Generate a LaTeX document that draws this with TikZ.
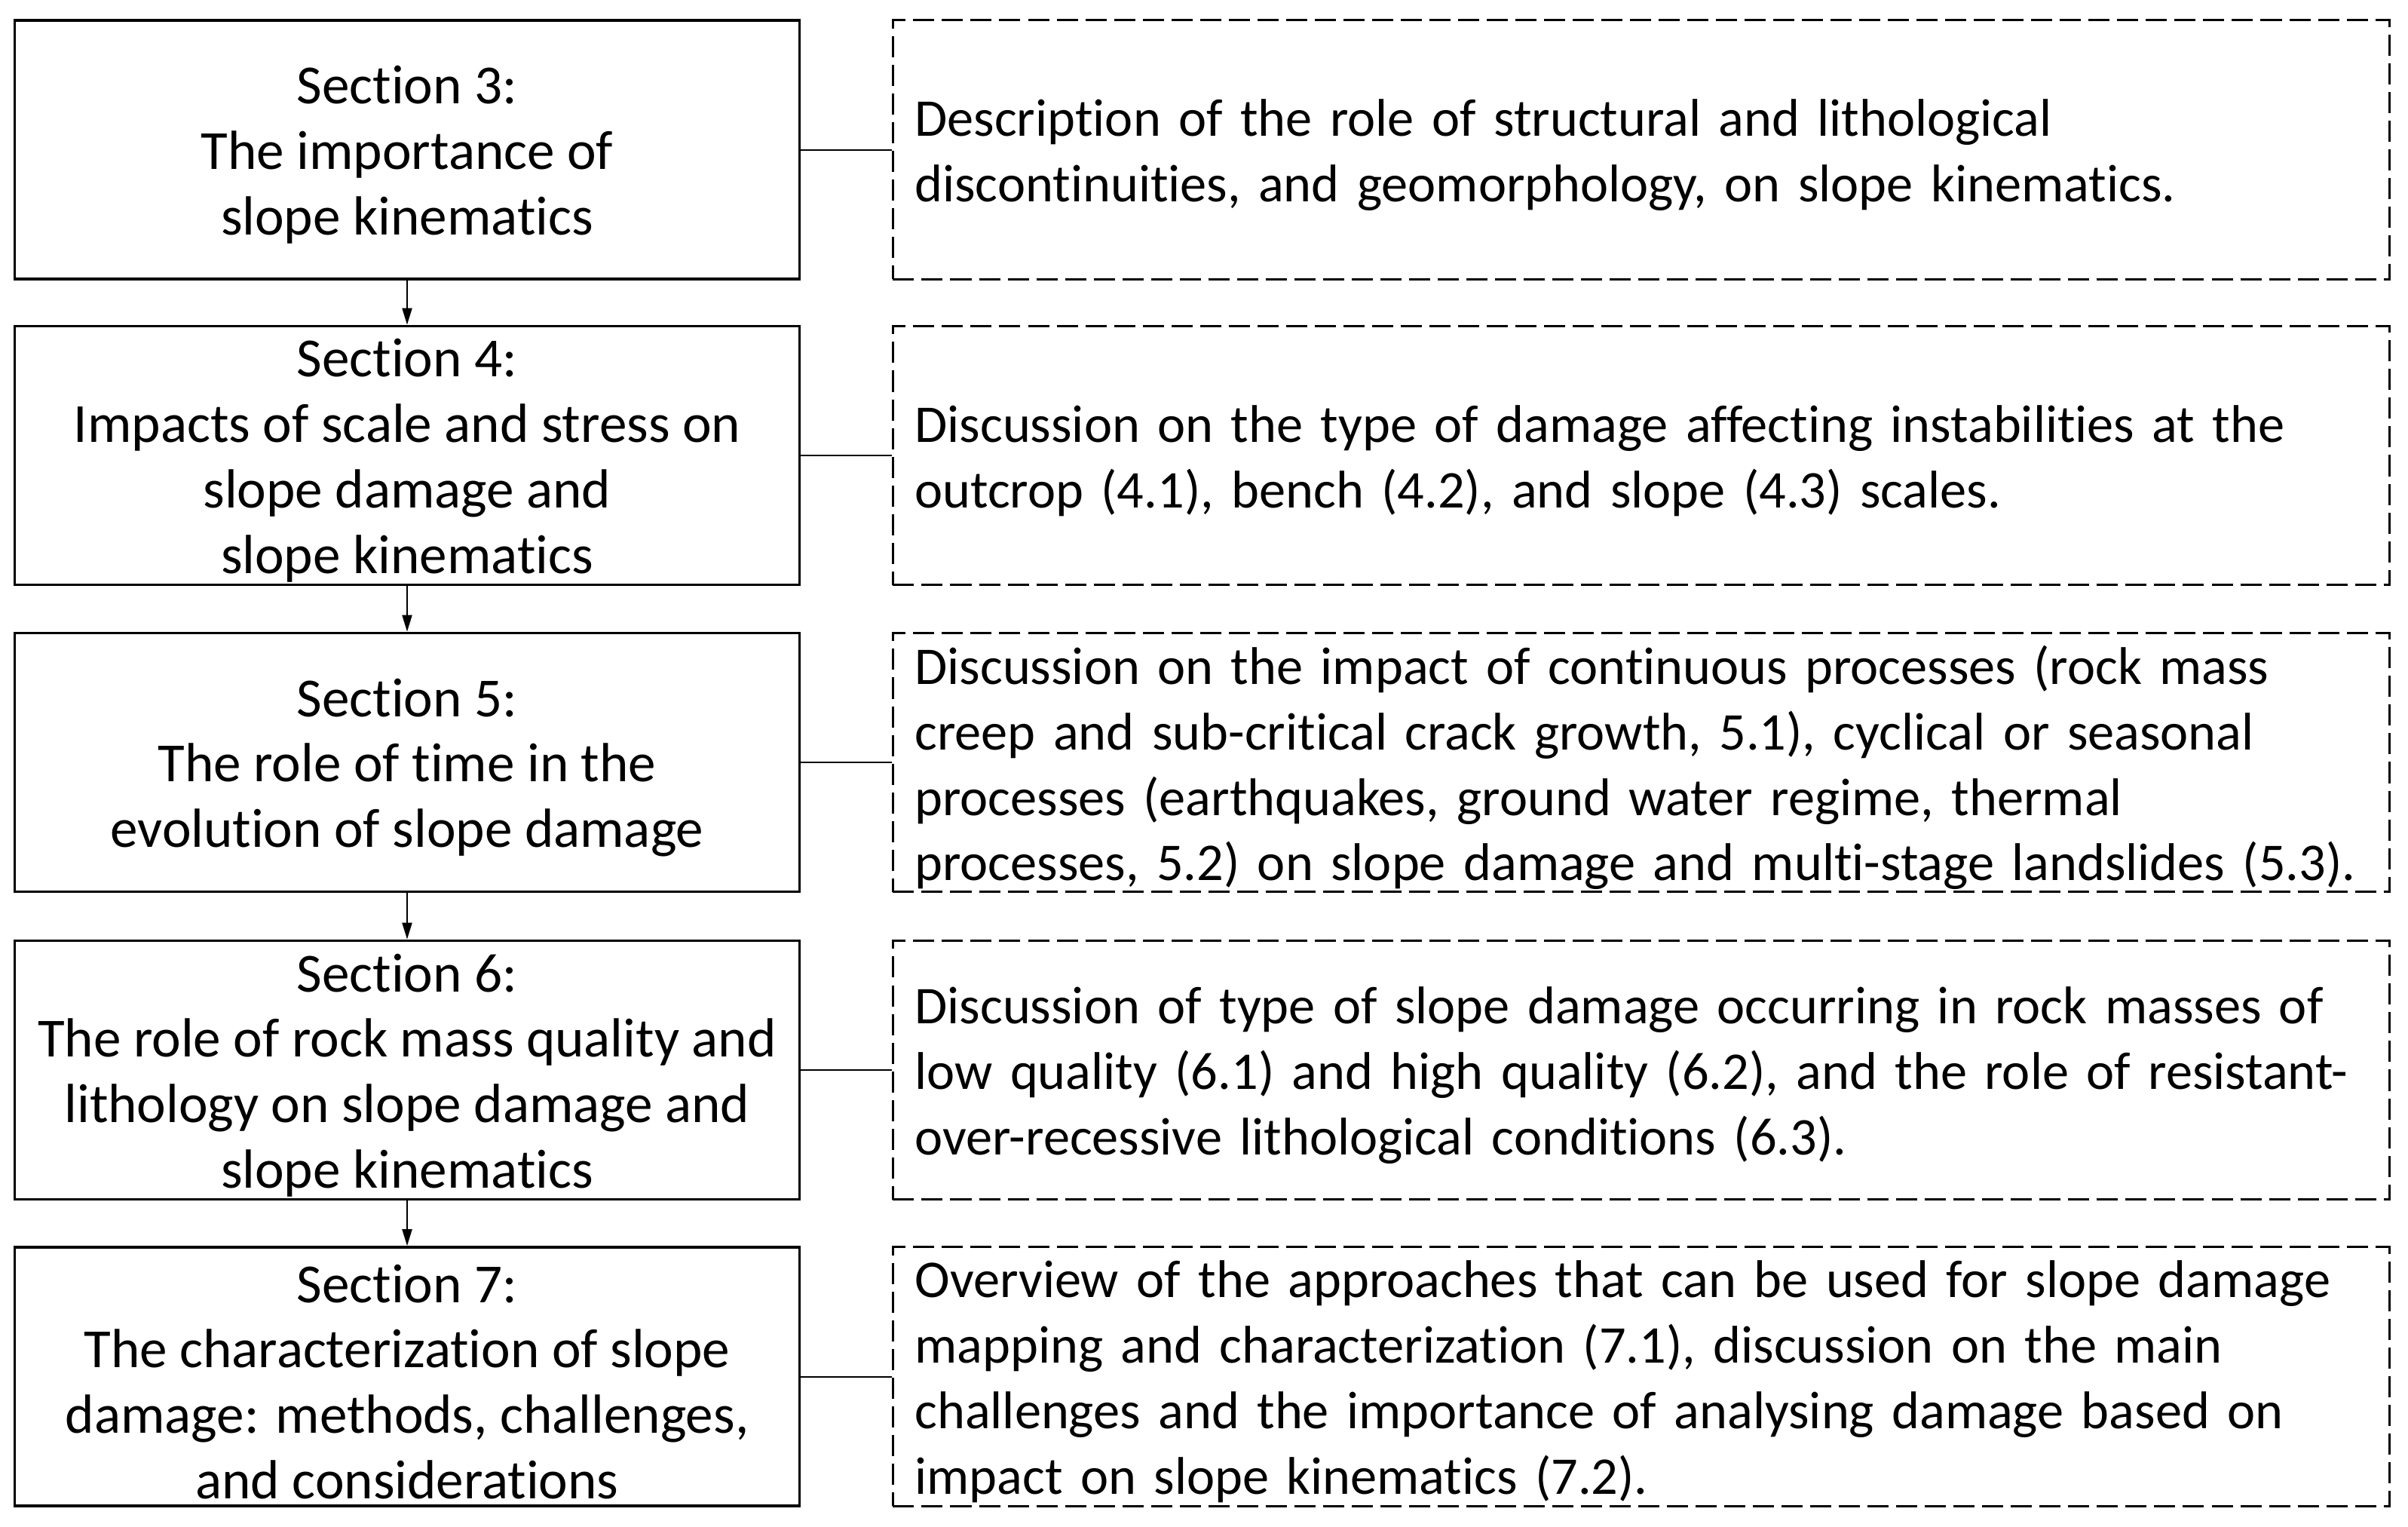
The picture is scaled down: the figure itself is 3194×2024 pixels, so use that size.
\documentclass[tikz,border=0pt]{standalone}
\usepackage{fontspec}
\setmainfont[Ligatures=NoCommon]{Carlito}
\usetikzlibrary{arrows.meta}
\begin{document}
\begin{tikzpicture}[x=0.01cm,y=-0.01cm,
  secframe/.style={draw,line width=0.035cm,minimum width=10.4cm,minimum height=3.43cm,inner sep=0pt},
  sectext/.style={align=center,inner sep=0pt,yshift=-0.07cm,font=\fontsize{20.8}{24.7}\selectfont},
  descframe/.style={draw,dashed,dash pattern=on 0.28cm off 0.1cm,line width=0.03cm,minimum width=19.84cm,minimum height=3.43cm,inner sep=0pt},
  desctext/.style={text width=19.26cm,inner sep=0pt,yshift=-0.07cm,align=left,font=\fontsize{20}{24.7}\selectfont},
  link/.style={line width=0.02cm},
  flow/.style={line width=0.02cm,-{Triangle[length=0.22cm,width=0.13cm]}}]
\useasboundingbox (0,0) rectangle (3194,2024);
% left frames
\node[secframe] (s3) at (540,198.5) {};
\node[secframe] (s4) at (540,604) {};
\node[secframe] (s5) at (540,1011) {};
\node[secframe] (s6) at (540,1419) {};
\node[secframe] (s7) at (540,1825.5) {};
% right frames
\node[descframe] (d3) at (2177,198.5) {};
\node[descframe] (d4) at (2177,604) {};
\node[descframe] (d5) at (2177,1011) {};
\node[descframe] (d6) at (2177,1419) {};
\node[descframe] (d7) at (2177,1825.5) {};
% left texts
\node[sectext] (s3t) at (s3) {Section 3:\\The importance of\\slope kinematics};
\node[sectext] (s4t) at (s4) {Section 4:\\Impacts of scale and stress on\\slope damage and\\slope kinematics};
\node[sectext] (s5t) at (s5) {Section 5:\\The role of time in the\\evolution of slope damage};
\node[sectext] (s6t) at (s6) {Section 6:\\The role of rock mass quality and\\lithology on slope damage and\\slope kinematics};
\node[sectext] (s7t) at (s7) {Section 7:\\The characterization of slope\\damage: methods, challenges,\\and considerations};
% right texts
\node[desctext] (d3t) at (d3) {Description of the role of structural and lithological\\discontinuities, and geomorphology, on slope kinematics.};
\node[desctext] (d4t) at (d4) {Discussion on the type of damage affecting instabilities at the\\outcrop (4.1), bench (4.2), and slope (4.3) scales.};
\node[desctext] (d5t) at (d5) {Discussion on the impact of continuous processes (rock mass\\creep and sub-critical crack growth, 5.1), cyclical or seasonal\\processes (earthquakes, ground water regime, thermal\\processes, 5.2) on slope damage and multi-stage landslides (5.3).};
\node[desctext] (d6t) at (d6) {Discussion of type of slope damage occurring in rock masses of\\low quality (6.1) and high quality (6.2), and the role of resistant-\\over-recessive lithological conditions (6.3).};
\node[desctext] (d7t) at (d7) {Overview of the approaches that can be used for slope damage\\mapping and characterization (7.1), discussion on the main\\challenges and the importance of analysing damage based on\\impact on slope kinematics (7.2).};
% connectors
\foreach \a/\b in {s3/s4,s4/s5,s5/s6,s6/s7} \draw[flow] (\a.south) -- (\b.north);
\foreach \i in {3,4,5,6,7} \draw[link] (s\i.east) -- (d\i.west);
\end{tikzpicture}
\end{document}
